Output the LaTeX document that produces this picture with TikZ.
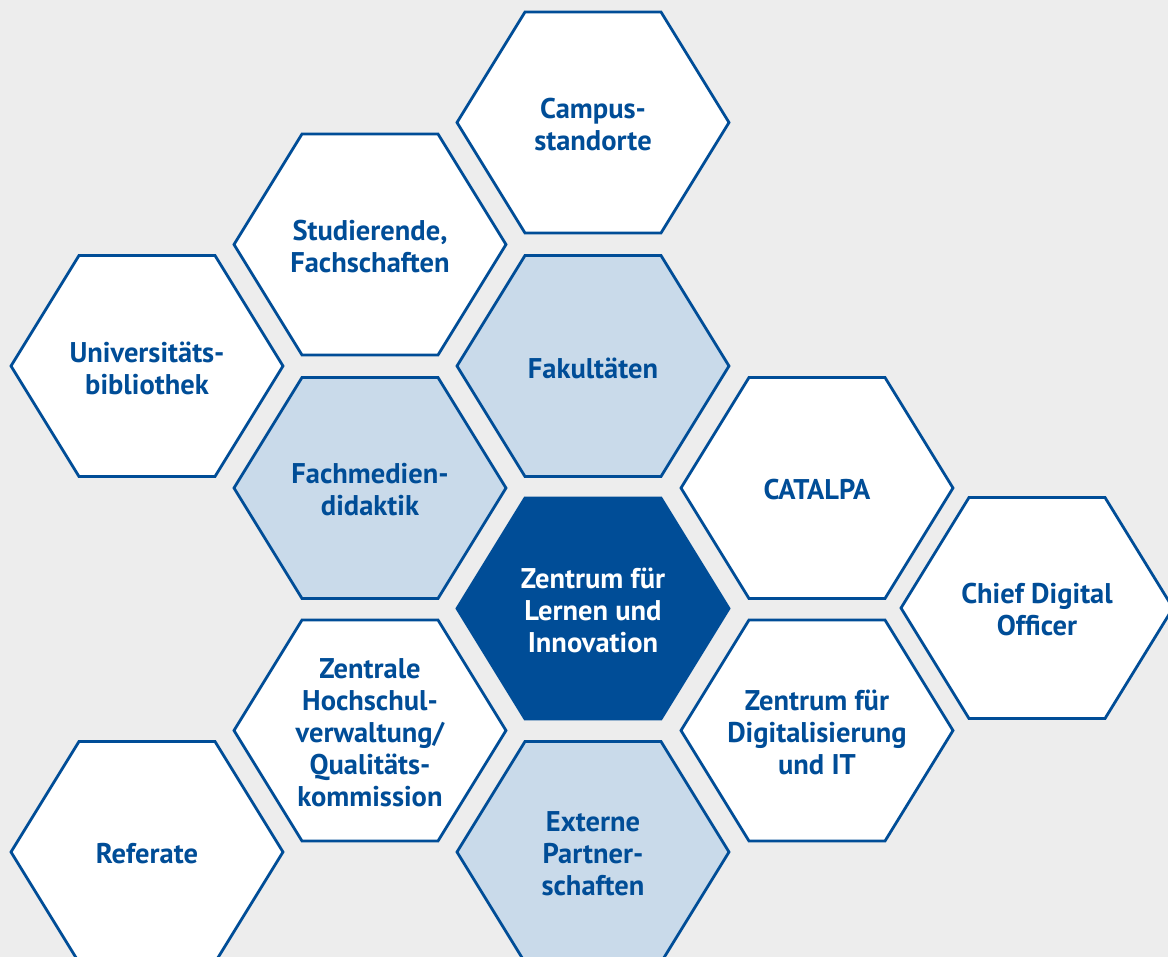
\documentclass[tikz,border=0pt]{standalone}
\usepackage{fontspec}
\setmainfont{PT Sans}
\usepackage{tikz}

\definecolor{hexblue}{HTML}{004D97}
\definecolor{hexpale}{HTML}{C9DAEA}
\definecolor{hexbg}{HTML}{EDEDED}

\tikzset{
    hexline/.style={draw=hexblue, line width=2.8pt, line join=miter},
    hextext/.style={align=center, inner sep=0pt, yshift=-2pt,
        font=\bfseries\fontsize{28.5}{32}\selectfont},
}

\begin{document}
\begin{tikzpicture}[x=1pt, y=-1pt]
    \fill[hexbg] (0,0) rectangle (1168,957);
    \useasboundingbox (0,0) rectangle (1168,957);
    \clip (0,0) rectangle (1168,957);
    % honeycomb: name / centre / fill / text colour / text
    \foreach \cname/\cx/\cy/\cfill/\ctcol/\ctext in {
        campus/593/122.5/white/hexblue/{Campus-\\standorte},
        stud/370/244.5/white/hexblue/{Studierende,\\Fachschaften},
        ub/147/366/white/hexblue/{Universitäts-\\bibliothek},
        fak/593/366/hexpale/hexblue/{Fakultäten},
        fmd/370/488/hexpale/hexblue/{Fachmedien-\\didaktik},
        catalpa/817/488/white/hexblue/{CATALPA},
        zli/593/608.5/hexblue/white/{Zentrum für\\Lernen und\\Innovation},
        cdo/1037/608/white/hexblue/{Chief Digital\\Officer},
        zhv/370/730.5/white/hexblue/{Zentrale\\Hochschul-\\verwaltung/\\Qualitäts-\\kommission},
        zdi/817/730.5/white/hexblue/{Zentrum für\\Digitalisierung\\und IT},
        ref/147/852/white/hexblue/{Referate},
        ext/593/852/hexpale/hexblue/{Externe\\Partner-\\schaften}}
    {
        \draw[hexline, fill=\cfill] (\cx,\cy) +(-136,0) -- +(-68,-110.5)
            -- +(68,-110.5) -- +(136,0) -- +(68,110.5) -- +(-68,110.5) -- cycle;
        \node[hextext, text=\ctcol] (\cname) at (\cx,\cy) {\ctext};
    }
\end{tikzpicture}
\end{document}
